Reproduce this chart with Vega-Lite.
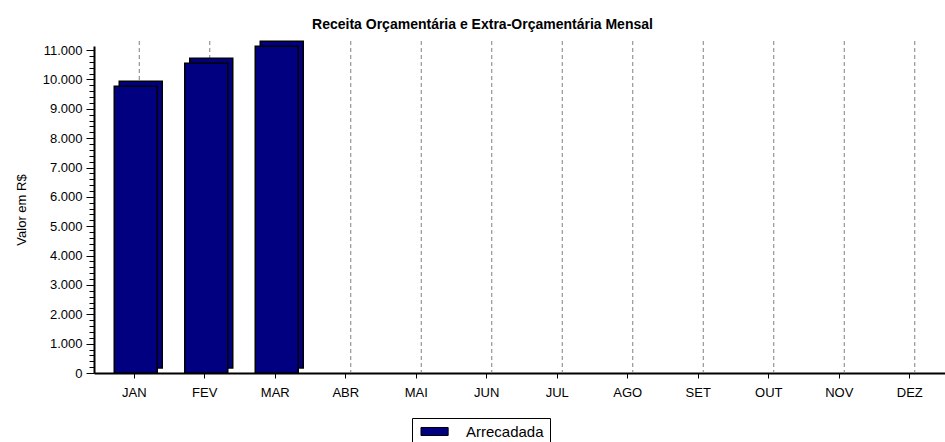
{
  "$schema": "https://vega.github.io/schema/vega-lite/v6.json",
  "width": 851,
  "height": 327,
  "autosize": {"type": "none"},
  "padding": {"left": 94, "top": 46, "right": 0, "bottom": 69},
  "title": {
    "text": "Receita Orçamentária e Extra-Orçamentária Mensal",
    "fontSize": 14,
    "fontWeight": "bold",
    "color": "black",
    "anchor": "middle",
    "frame": "group",
    "dx": -37,
    "offset": 9
  },
  "config": {
    "view": {"stroke": null},
    "font": "Liberation Sans"
  },
  "data": {
    "values": [
      {"mes": "JAN", "valor": 9770, "serie": "Arrecadada"},
      {"mes": "FEV", "valor": 10550, "serie": "Arrecadada"},
      {"mes": "MAR", "valor": 11130, "serie": "Arrecadada"},
      {"mes": "ABR", "valor": null, "serie": "Arrecadada"},
      {"mes": "MAI", "valor": null, "serie": "Arrecadada"},
      {"mes": "JUN", "valor": null, "serie": "Arrecadada"},
      {"mes": "JUL", "valor": null, "serie": "Arrecadada"},
      {"mes": "AGO", "valor": null, "serie": "Arrecadada"},
      {"mes": "SET", "valor": null, "serie": "Arrecadada"},
      {"mes": "OUT", "valor": null, "serie": "Arrecadada"},
      {"mes": "NOV", "valor": null, "serie": "Arrecadada"},
      {"mes": "DEZ", "valor": null, "serie": "Arrecadada"}
    ]
  },
  "encoding": {
    "x": {
      "field": "mes",
      "type": "nominal",
      "sort": null,
      "scale": {
        "domain": ["JAN", "FEV", "MAR", "ABR", "MAI", "JUN", "JUL", "AGO", "SET", "OUT", "NOV", "DEZ"],
        "paddingInner": 0,
        "paddingOuter": 0.0355,
        "align": 1
      },
      "axis": {
        "title": null,
        "labelAngle": 0,
        "labelFontSize": 13,
        "labelColor": "black",
        "tickColor": "black",
        "tickSize": 5,
        "labelPadding": 8,
        "domainColor": "black",
        "domainWidth": 2,
        "grid": false
      }
    }
  },
  "layer": [
    {
      "mark": {"type": "rule", "strokeDash": [4, 3], "color": "#808080", "strokeWidth": 1, "xOffset": 5, "yOffset": -5, "y2Offset": -5},
      "encoding": {}
    },
    {
      "transform": [{"filter": "datum.valor != null"}],
      "mark": {"type": "bar", "width": {"band": 0.61}, "xOffset": 6.5, "yOffset": -5, "y2Offset": -5, "fill": "#000080", "stroke": "black", "strokeWidth": 1.5},
      "encoding": {
        "y": {
          "field": "valor",
          "type": "quantitative",
          "scale": {"domain": [0, 11140], "nice": false, "zero": true},
          "axis": {
            "title": "Valor em R$",
            "titleFontSize": 13,
            "titleFontWeight": "normal",
            "titleColor": "black",
            "titlePadding": 14,
            "labelFontSize": 13,
            "labelColor": "black",
            "labelPadding": 4,
            "labelOverlap": false,
            "values": [0,200,400,600,800,1000,1200,1400,1600,1800,2000,2200,2400,2600,2800,3000,3200,3400,3600,3800,4000,4200,4400,4600,4800,5000,5200,5400,5600,5800,6000,6200,6400,6600,6800,7000,7200,7400,7600,7800,8000,8200,8400,8600,8800,9000,9200,9400,9600,9800,10000,10200,10400,10600,10800,11000],
            "format": ",d",
            "labelExpr": "datum.value % 1000 == 0 ? replace(datum.label, ',', '.') : ''",
            "tickSize": {"condition": {"test": "datum.value % 1000 == 0", "value": 8}, "value": 5},
            "tickColor": "black",
            "domainColor": "black",
            "domainWidth": 2,
            "grid": false
          }
        }
      }
    },
    {
      "transform": [{"filter": "datum.valor != null"}],
      "mark": {"type": "bar", "width": {"band": 0.61}, "xOffset": 1.5, "stroke": "black", "strokeWidth": 1.5, "opacity": 1},
      "encoding": {
        "y": {
          "field": "valor",
          "type": "quantitative",
          "scale": {"domain": [0, 11140], "nice": false, "zero": true},
          "axis": {
            "title": "Valor em R$",
            "titleFontSize": 13,
            "titleFontWeight": "normal",
            "titleColor": "black",
            "titlePadding": 14,
            "labelFontSize": 13,
            "labelColor": "black",
            "labelPadding": 4,
            "labelOverlap": false,
            "values": [0,200,400,600,800,1000,1200,1400,1600,1800,2000,2200,2400,2600,2800,3000,3200,3400,3600,3800,4000,4200,4400,4600,4800,5000,5200,5400,5600,5800,6000,6200,6400,6600,6800,7000,7200,7400,7600,7800,8000,8200,8400,8600,8800,9000,9200,9400,9600,9800,10000,10200,10400,10600,10800,11000],
            "format": ",d",
            "labelExpr": "datum.value % 1000 == 0 ? replace(datum.label, ',', '.') : ''",
            "tickSize": {"condition": {"test": "datum.value % 1000 == 0", "value": 8}, "value": 5},
            "tickColor": "black",
            "domainColor": "black",
            "domainWidth": 2,
            "grid": false
          }
        },
        "color": {
          "field": "serie",
          "type": "nominal",
          "scale": {"range": ["#000080"]},
          "legend": {
            "orient": "none",
            "legendX": 318,
            "legendY": 372,
            "title": null,
            "strokeColor": "black",
            "padding": 6,
            "labelFontSize": 15,
            "labelColor": "black",
            "labelOffset": 33,
            "symbolType": "M-0.88,-0.78L4.4,-0.78L4.4,0.78L-0.88,0.78Z",
            "symbolSize": 106,
            "symbolStrokeColor": "black",
            "symbolStrokeWidth": 1,
            "symbolOpacity": 1
          }
        }
      }
    }
  ]
}
